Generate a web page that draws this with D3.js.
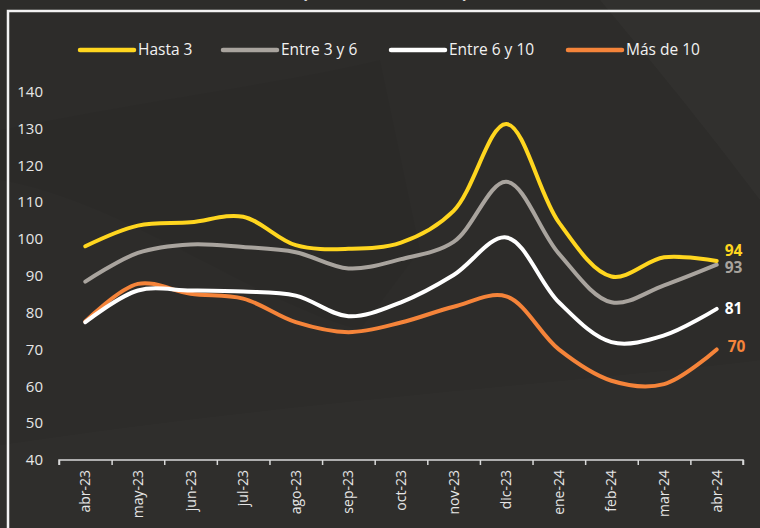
<!DOCTYPE html>
<html>
<head>
<meta charset="utf-8">
<script src="https://cdn.jsdelivr.net/npm/d3@7"></script>
<style>
  html, body { margin: 0; padding: 0; background: #2d2c2a; }
  svg { display: block; }
</style>
</head>
<body>
<script>
// Data
var months = ["abr-23", "may-23", "jun-23", "jul-23", "ago-23", "sep-23", "oct-23",
              "nov-23", "dic-23", "ene-24", "feb-24", "mar-24", "abr-24"];
var seriesNames = ["Hasta 3", "Entre 3 y 6", "Entre 6 y 10", "Más de 10"];
var hasta3   = [98, 103.6, 104.5, 106, 98.3, 97.3, 99, 107.6, 131.2, 104.5, 89.8, 95, 94];
var entre3y6 = [88.4, 96.2, 98.5, 97.8, 96.4, 92, 94.5, 99.2, 115.5, 96, 82.8, 87.4, 93];
var entre6y10 = [77.4, 86, 86, 85.7, 84.6, 79, 82.8, 90.2, 100.4, 82.8, 72, 73.8, 81];
var masDe10  = [77.6, 87.8, 85.1, 83.8, 77.4, 74.7, 77.3, 81.6, 84.4, 70, 61.5, 60.6, 70];
var yTicks = [40, 50, 60, 70, 80, 90, 100, 110, 120, 130, 140];
var endLabels = ["94", "93", "81", "70"];

var width = 760, height = 528;
var colors = ["#ffd61f", "#a9a49e", "#ffffff", "#f5843a"];
var allSeries = [hasta3, entre3y6, entre6y10, masDe10];

var svg = d3.select("body").append("svg")
    .attr("width", width)
    .attr("height", height);

// Background with subtle light swooshes
svg.append("rect").attr("width", width).attr("height", height).attr("fill", "#2d2c2a");
svg.append("path")
    .attr("d", "M0,445 L0,528 L760,528 L760,360 C600,380 300,400 0,445 Z")
    .attr("fill", "#ffffff").attr("opacity", 0.012);
svg.append("path")
    .attr("d", "M0,130 C150,100 300,80 380,60 L420,250 L360,330 C250,300 120,200 0,180 Z")
    .attr("fill", "#000000").attr("opacity", 0.035);
svg.append("path")
    .attr("d", "M600,0 L760,0 L760,200 C700,120 650,60 600,0 Z")
    .attr("fill", "#ffffff").attr("opacity", 0.02);

// Title, cut off at the top as in the source
svg.append("text")
    .attr("x", 385).attr("y", -2)
    .attr("text-anchor", "middle")
    .attr("fill", "#ffffff")
    .style("font-family", "Open Sans")
    .style("font-size", "18px")
    .style("font-weight", "bold")
    .text("(Base abr-23 = 100)");

// Frame
svg.append("path")
    .attr("d", "M8," + height + " L8,11 L" + width + ",11")
    .attr("fill", "none")
    .attr("stroke", "#f2f2f2")
    .attr("stroke-width", 2.5);

// Scales
var x = d3.scaleBand().domain(months).range([59, 743]).padding(0);
var xEdge = d3.scaleLinear().domain([0, months.length]).range([59, 743]);
var y = d3.scaleLinear().domain([40, 140]).range([460, 91.5]);

// Y axis labels
var yAxis = svg.append("g")
    .attr("transform", "translate(43,0)")
    .call(d3.axisLeft(y).tickValues(yTicks).tickSize(0).tickPadding(0));
yAxis.select(".domain").remove();
yAxis.selectAll("text")
    .attr("fill", "#e6e6e6")
    .style("font-family", "Open Sans")
    .style("font-size", "15px");

// X axis with ticks at band edges
var xAxis = svg.append("g")
    .attr("transform", "translate(0,460)")
    .call(d3.axisBottom(xEdge).tickValues(d3.range(months.length + 1)).tickSize(5).tickFormat(""));
xAxis.select(".domain").attr("stroke", "#d9d9d9").attr("stroke-width", 1.5)
    .attr("d", "M59,5V0H743V5");
xAxis.selectAll(".tick line").attr("stroke", "#d9d9d9").attr("stroke-width", 1.5);

svg.append("g").selectAll("text")
    .data(months)
    .enter().append("text")
    .attr("transform", function(d) {
        return "translate(" + (x(d) + x.bandwidth() / 2 + 5) + ",470) rotate(-90)";
    })
    .attr("text-anchor", "end")
    .attr("fill", "#e6e6e6")
    .style("font-family", "Open Sans")
    .style("font-size", "14px")
    .text(function(d) { return d; });

// Lines
var line = d3.line()
    .x(function(d, i) { return x(months[i]) + x.bandwidth() / 2; })
    .y(function(d) { return y(d); })
    .curve(d3.curveCatmullRom.alpha(0.5));

// draw order: orange bottom, white, gray, yellow on top
[3, 2, 1, 0].forEach(function(k) {
    svg.append("path")
        .datum(allSeries[k])
        .attr("d", line)
        .attr("fill", "none")
        .attr("stroke", colors[k])
        .attr("stroke-width", 4)
        .attr("stroke-linecap", "round");
});

// End labels
var labelDy = [-10, 3, 0, -3];
var labelDx = [8, 8, 8, 11];
allSeries.forEach(function(s, k) {
    var last = s.length - 1;
    svg.append("text")
        .attr("x", x(months[last]) + x.bandwidth() / 2 + labelDx[k])
        .attr("y", y(s[last]) + labelDy[k])
        .attr("dy", "0.35em")
        .attr("fill", colors[k])
        .style("font-family", "Open Sans")
        .style("font-size", "15.5px")
        .style("font-weight", "bold")
        .text(endLabels[k]);
});

// Legend
var legendX = [80, 223, 391, 568];
var legend = svg.append("g").selectAll("g")
    .data(seriesNames)
    .enter().append("g")
    .attr("transform", function(d, i) { return "translate(" + legendX[i] + ",50)"; });
legend.append("line")
    .attr("x1", 0).attr("x2", 54)
    .attr("stroke", function(d, i) { return colors[i]; })
    .attr("stroke-width", 4.5)
    .attr("stroke-linecap", "round");
legend.append("text")
    .attr("x", 58)
    .attr("dy", "0.35em")
    .attr("fill", "#f2f2f2")
    .style("font-family", "Open Sans")
    .style("font-size", "15.5px")
    .text(function(d) { return d; });
</script>
</body>
</html>
